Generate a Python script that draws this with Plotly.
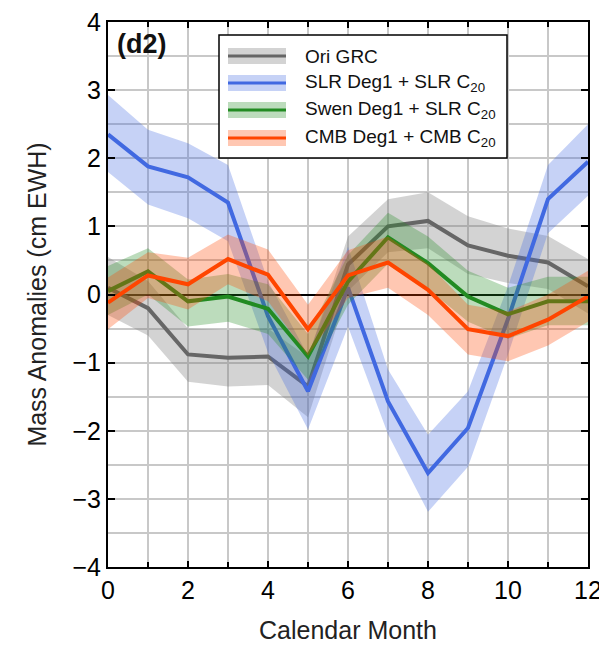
import plotly.graph_objects as go

months = list(range(13))

ori_mean = [0.10, -0.20, -0.88, -0.93, -0.91, -1.35, 0.44, 1.00, 1.08, 0.72, 0.57, 0.47, 0.12]
ori_upper = [0.55, 0.20, -0.50, -0.52, -0.50, -0.92, 0.85, 1.40, 1.50, 1.15, 0.97, 0.86, 0.52]
ori_lower = [-0.30, -0.60, -1.28, -1.35, -1.33, -1.80, 0.05, 0.62, 0.68, 0.30, 0.17, 0.08, -0.28]

slr_mean = [2.35, 1.88, 1.72, 1.35, -0.32, -1.42, 0.10, -1.57, -2.62, -1.96, -0.36, 1.40, 1.95]
slr_upper = [2.93, 2.42, 2.22, 1.90, 0.20, -0.90, 0.70, -1.10, -2.06, -1.42, 0.12, 1.90, 2.50]
slr_lower = [1.80, 1.32, 1.12, 0.78, -0.85, -1.98, -0.47, -2.05, -3.19, -2.53, -0.88, 0.90, 1.45]

swen_mean = [0.05, 0.34, -0.10, -0.03, -0.21, -0.91, 0.19, 0.84, 0.46, -0.03, -0.29, -0.10, -0.10]
swen_upper = [0.42, 0.68, 0.22, 0.30, 0.15, -0.58, 0.58, 1.20, 0.85, 0.35, 0.10, 0.26, 0.26]
swen_lower = [-0.30, 0.00, -0.47, -0.40, -0.58, -1.25, -0.15, 0.45, 0.08, -0.40, -0.65, -0.45, -0.45]

cmb_mean = [-0.12, 0.28, 0.15, 0.52, 0.29, -0.51, 0.28, 0.47, 0.07, -0.51, -0.61, -0.37, -0.03]
cmb_upper = [0.25, 0.62, 0.54, 0.88, 0.66, -0.15, 0.65, 0.85, 0.45, -0.15, -0.25, 0.00, 0.35]
cmb_lower = [-0.51, -0.05, -0.22, 0.15, -0.10, -0.90, -0.05, 0.10, -0.30, -0.88, -0.98, -0.75, -0.40]

series_names = ["Ori GRC", "SLR Deg1 + SLR C<sub>20</sub>",
                "Swen Deg1 + SLR C<sub>20</sub>", "CMB Deg1 + CMB C<sub>20</sub>"]
line_colors = ["#666666", "#4169E1", "#228B22", "#FF4500"]
band_colors = ["rgba(120,120,120,0.33)", "rgba(65,105,225,0.30)",
               "rgba(34,139,34,0.30)", "rgba(255,69,0,0.30)"]

means = [ori_mean, slr_mean, swen_mean, cmb_mean]
uppers = [ori_upper, slr_upper, swen_upper, cmb_upper]
lowers = [ori_lower, slr_lower, swen_lower, cmb_lower]

FONT = "Liberation Sans, Arial, sans-serif"

fig = go.Figure()

for m, u, l, lc, bc, nm in zip(means, uppers, lowers, line_colors, band_colors, series_names):
    fig.add_trace(go.Scatter(
        x=months + months[::-1], y=u + l[::-1], fill="toself",
        fillcolor=bc, line=dict(width=0), mode="lines",
        hoverinfo="skip", showlegend=False))
    fig.add_trace(go.Scatter(
        x=months, y=m, mode="lines", name=nm,
        line=dict(color=lc, width=4), showlegend=False))

# page offset (browser default body margin) and screen geometry
OFF = 8
SW, SH = 607, 645
L, R, T, B = 108, 588, 22, 567   # plot area in screen pixels
W, H = SW - OFF, SH - OFF


def px(x):
    return (x - L) / (R - L)


def py(y):
    return (B - y) / (B - T)


shapes = []
annotations = []

# legend box
shapes.append(dict(type="rect", xref="paper", yref="paper",
                   x0=px(219), x1=px(507), y0=py(158), y1=py(35),
                   line=dict(color="black", width=1.5), fillcolor="white",
                   layer="above"))
rows = [56, 83, 110, 138]
for r, lc, bc, nm in zip(rows, line_colors, band_colors, series_names):
    shapes.append(dict(type="rect", xref="paper", yref="paper",
                       x0=px(228), x1=px(286), y0=py(r + 8), y1=py(r - 8),
                       line=dict(width=0), fillcolor=bc, layer="above"))
    shapes.append(dict(type="line", xref="paper", yref="paper",
                       x0=px(228), x1=px(286), y0=py(r), y1=py(r),
                       line=dict(color=lc, width=3), layer="above"))
    annotations.append(dict(xref="paper", yref="paper", x=px(303), y=py(r),
                            xanchor="left", yanchor="middle", showarrow=False,
                            text=nm, font=dict(family=FONT, size=19, color="#111")))

annotations.append(dict(xref="paper", yref="paper", x=px(115), y=py(44),
                        xanchor="left", yanchor="middle", showarrow=False,
                        text="<b>(d2)</b>", font=dict(family=FONT, size=27, color="#111")))

axis_common = dict(
    showline=True, linecolor="black", linewidth=2, mirror="ticks",
    ticks="inside", tickcolor="black", tickwidth=1.5,
    showgrid=True, gridcolor="#c8c8c8", gridwidth=1.5,
    tickfont=dict(family=FONT, size=25, color="black"),
    ticklabeloverflow="allow",
    automargin=False,
)

fig.update_layout(
    width=W, height=H,
    margin=dict(l=L - OFF, r=SW - R, t=T - OFF, b=SH - B),
    paper_bgcolor="white", plot_bgcolor="white",
    showlegend=False,
    shapes=shapes, annotations=annotations,
    xaxis=dict(range=[0, 12], tick0=0, dtick=2, ticklen=6,
               zeroline=False,
               minor=dict(dtick=1, ticks="inside", ticklen=5, tickcolor="black",
                          showgrid=True, gridcolor="#c8c8c8", gridwidth=1.5),
               title=dict(text="Calendar Month", standoff=18,
                          font=dict(family=FONT, size=25, color="#222")),
               **axis_common),
    yaxis=dict(range=[-4, 4], tick0=0, dtick=1, ticklen=7,
               zeroline=True, zerolinecolor="black", zerolinewidth=2,
               minor=dict(dtick=0.5, showgrid=True, gridcolor="#c8c8c8", gridwidth=1.5),
               title=dict(text="Mass Anomalies (cm EWH)", standoff=19,
                          font=dict(family=FONT, size=25, color="#222")),
               **axis_common),
)

fig.write_html("out.html")
